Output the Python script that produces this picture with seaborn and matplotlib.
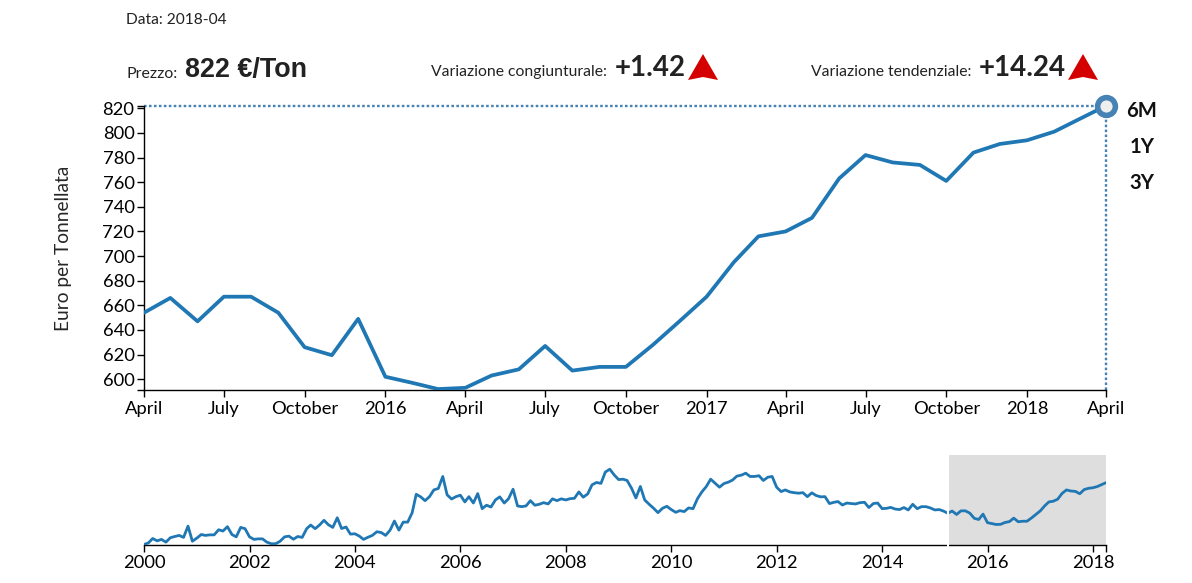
import matplotlib
matplotlib.use("Agg")
import matplotlib.dates as mdates
import matplotlib.pyplot as plt
import pandas as pd
import seaborn as sns
from matplotlib.patches import Polygon

# prezzo mensile, ultimi 37 mesi (2015-04 -> 2018-04)
recent_prices = [
    654, 666, 647, 667, 667, 654, 626, 619.5, 649,
    602, 597, 592, 593, 603, 608, 627, 607, 610, 610, 628, 647,
    667, 695, 716, 720, 731, 763, 782, 776, 774, 761, 784, 791,
    794, 801, 811, 822,
]

history_prices = [
    482, 491, 515, 502, 510, 495, 519, 526, 532, 521, 583, 500,
    517, 537, 532, 535, 535, 563, 556, 580, 537, 524, 576, 569,
    524, 510, 513, 513, 495, 486, 486, 500, 524, 528, 511, 526,
    521, 569, 589, 569, 589, 615, 591, 576, 629, 570, 578, 539,
    541, 528, 510, 522, 532, 552, 548, 532, 561, 611, 561, 605,
    605, 657, 758, 744, 723, 745, 782, 790, 856, 755, 732, 745,
    753, 716, 745, 710, 762, 679, 698, 688, 727, 744, 710, 734,
    786, 694, 690, 694, 723, 698, 703, 712, 705, 733, 723, 733,
    727, 734, 736, 771, 742, 760, 810, 823, 818, 880, 896, 865,
    839, 841, 834, 791, 738, 801, 727, 703, 681, 657, 681, 692,
    674, 659, 668, 663, 683, 679, 733, 771, 801, 841, 819, 797,
    817, 825, 836, 858, 863, 874, 856, 856, 860, 834, 852, 856,
    797, 773, 782, 771, 767, 764, 767, 745, 766, 751, 744, 745,
    707, 714, 718, 699, 710, 707, 705, 712, 714, 685, 707, 710,
    679, 681, 686, 677, 674, 685, 672, 703, 679, 690, 690, 683,
    672, 674, 666,
]

main_ticks = ["2015-04", "2015-07", "2015-10", "2016-01", "2016-04", "2016-07", "2016-10",
              "2017-01", "2017-04", "2017-07", "2017-10", "2018-01", "2018-04"]
main_tick_labels = ["April", "July", "October", "2016", "April", "July", "October",
                    "2017", "April", "July", "October", "2018", "April"]
range_buttons = ["6M", "1Y", "3Y"]

LINE_COLOR = "#1f77b4"
DOT_COLOR = "#4682b4"
TEXT_DARK = "#222222"

sns.set_theme(style="white")
plt.rcParams["font.family"] = ["Lato", "DejaVu Sans"]
plt.rcParams["text.color"] = "black"

W, H = 1192, 583
fig = plt.figure(figsize=(W / 100, H / 100), dpi=100)


def px_axes(left, top, right, bottom):
    return fig.add_axes([left / W, 1 - bottom / H, (right - left) / W, (bottom - top) / H])


def fig_text(x, y, s, **kw):
    fig.text(x / W, 1 - y / H, s, va="center", **kw)


def red_arrow(cx):
    # triangolino rosso con la base leggermente incavata
    pts = [(cx, 54), (cx + 15, 80), (cx, 77), (cx - 15, 80)]
    fig.add_artist(Polygon([(x / W, 1 - y / H) for x, y in pts], closed=True,
                           transform=fig.transFigure, color="#d40000", lw=0))


recent = pd.DataFrame({
    "date": pd.date_range("2015-04-01", periods=len(recent_prices), freq="MS"),
    "price": recent_prices,
})
context = pd.DataFrame({
    "date": pd.date_range("2000-01-01", periods=len(history_prices) + len(recent_prices), freq="MS"),
    "price": history_prices + recent_prices,
})
first_date = recent["date"].iloc[0]
last_date = recent["date"].iloc[-1]
last_price = recent["price"].iloc[-1]

# grafico principale
ax = px_axes(144, 105.8, 1106, 390.3)
sns.lineplot(data=recent, x="date", y="price", color=LINE_COLOR, linewidth=2.7, ax=ax, zorder=3)
ax.set_xlim(first_date, last_date)
ax.set_ylim(591, 822)
ax.set_yticks(range(600, 821, 20))
ax.set_yticks([591, 822], minor=True)
ax.set_xticks(pd.to_datetime(main_ticks))
ax.set_xticklabels(main_tick_labels)
ax.set_xlabel("")
ax.set_ylabel("Euro per Tonnellata", fontsize=13.8, labelpad=0)
ax.yaxis.set_label_coords(-0.0745, 0.5)
ax.tick_params(axis="both", which="both", left=True, bottom=True, length=5, width=1,
               color="black", labelsize=13.2, labelcolor="black")
ax.tick_params(axis="x", pad=3)
ax.tick_params(axis="y", pad=1.8)
sns.despine(ax=ax)
for side in ("left", "bottom"):
    ax.spines[side].set_color("black")
    ax.spines[side].set_linewidth(1)

ax.plot([first_date, last_date], [last_price, last_price], color=DOT_COLOR,
        lw=1.7, ls=(0, (1.1, 1.0)), clip_on=False, zorder=2)
ax.plot([last_date, last_date], [591, last_price], color=DOT_COLOR,
        lw=1.7, ls=(0, (1.1, 1.0)), clip_on=False, zorder=2)
ax.plot([last_date], [last_price], marker="o", ms=12.8, mfc="#eeeeee", mec=DOT_COLOR, mew=4,
        clip_on=False, zorder=5)

# grafico di contesto con la selezione grigia
ax2 = px_axes(144, 455, 1106, 544.5)
ax2.axvspan(first_date, last_date, color="#dedede", lw=0, zorder=0)
sns.lineplot(data=context, x="date", y="price", color=LINE_COLOR, linewidth=2, ax=ax2, zorder=3)
ax2.axvline(first_date, ymin=-0.02, color="white", lw=1.5, zorder=4, clip_on=False)
ax2.set_xlim(context["date"].iloc[0], last_date)
ax2.set_ylim(482, 974)
ax2.set_yticks([])
ax2.set_xlabel("")
ax2.set_ylabel("")
ax2.set_xticks(pd.to_datetime([f"{y}-01-01" for y in range(2000, 2019, 2)]))
ax2.set_xticks([last_date], minor=True)
ax2.xaxis.set_major_formatter(mdates.DateFormatter("%Y"))
ax2.xaxis.set_minor_formatter(plt.NullFormatter())
ax2.tick_params(axis="x", which="both", bottom=True, length=5, width=1, color="black",
                labelsize=13.2, labelcolor="black", pad=2.5)
sns.despine(ax=ax2, left=True)
ax2.spines["bottom"].set_color("black")
ax2.spines["bottom"].set_linewidth(1)

# intestazione
fig_text(126, 20.5, "Data: 2018-04", fontsize=11.2, color=TEXT_DARK)
fig_text(126, 73.5, "Prezzo:", fontsize=11.4, color=TEXT_DARK)
fig_text(185, 70.5, "822 €/Ton", fontsize=19.4, fontweight="bold", color=TEXT_DARK,
         family="Liberation Sans")
fig_text(431, 72, "Variazione congiunturale:", fontsize=11.3, color=TEXT_DARK)
fig_text(615, 68.5, "+1.42", fontsize=20, fontweight="bold", color=TEXT_DARK)
red_arrow(703)
fig_text(811, 72, "Variazione tendenziale:", fontsize=11.3, color=TEXT_DARK)
fig_text(979, 68.5, "+14.24", fontsize=20, fontweight="bold", color=TEXT_DARK)
red_arrow(1083)

for label, y in zip(range_buttons, [111, 147, 183]):
    fig.text(1142 / W, 1 - y / H, label, ha="center", va="center", fontsize=14.6, fontweight="bold",
             color="#111111")

fig.savefig("out.png", dpi=100)
